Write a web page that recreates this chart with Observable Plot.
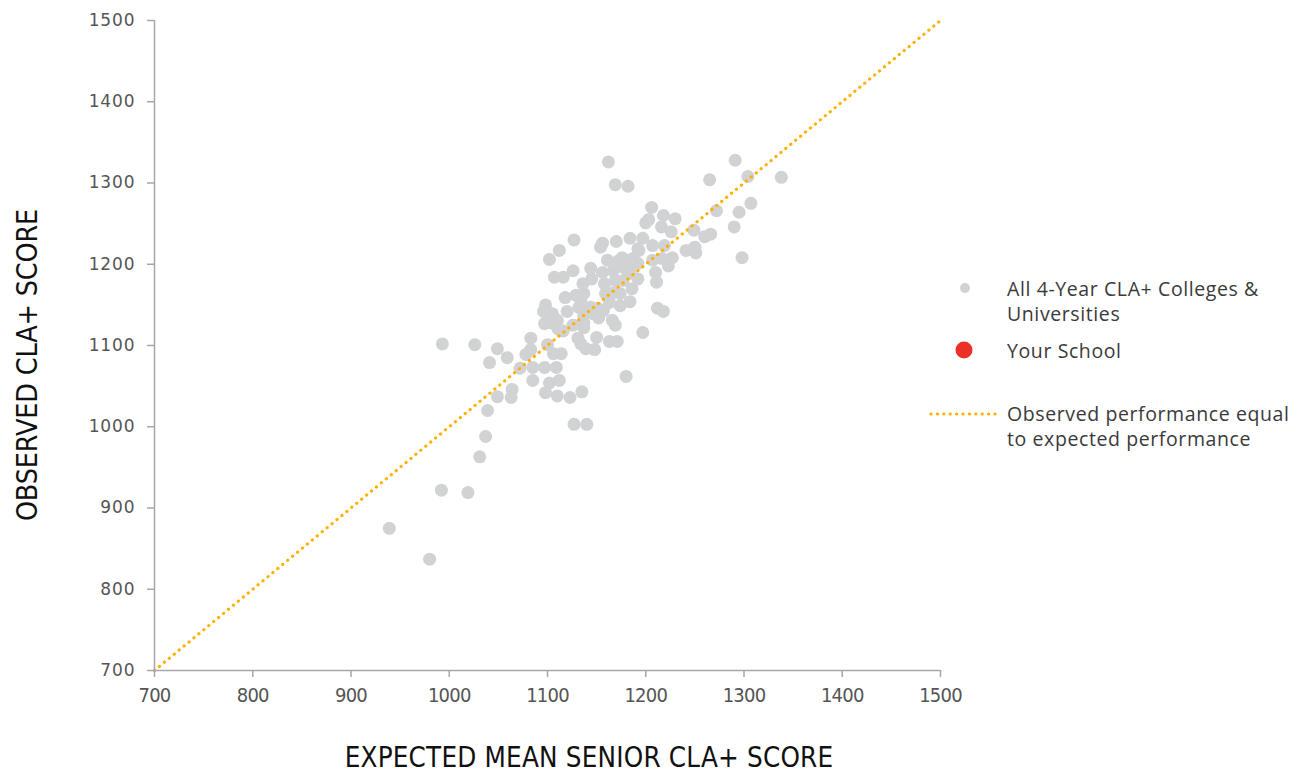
<!DOCTYPE html>
<html>
<head>
<meta charset="utf-8">
<script src="https://cdn.jsdelivr.net/npm/d3@7"></script>
<script src="https://cdn.jsdelivr.net/npm/@observablehq/plot@0.6"></script>
<style>
  html, body { margin: 0; padding: 0; background: #fff; }
  #wrap { position: relative; width: 1307px; height: 774px; }
  #overlay { position: absolute; left: 0; top: 0; pointer-events: none; }
  g[aria-label="y-axis tick label"] { font-family: "DejaVu Sans", sans-serif; font-size: 17px; letter-spacing: 0.9px; fill: #555; }
  g[aria-label="x-axis tick label"] { font-family: "DejaVu Sans Condensed", "DejaVu Sans", sans-serif; font-stretch: condensed; font-size: 20px; letter-spacing: -0.8px; fill: #555; }
  g[aria-label="y-axis tick"], g[aria-label="x-axis tick"] { stroke: #a6a6a6; stroke-width: 1.5; }
</style>
</head>
<body>
<div id="wrap"></div>
<script>
// Expected mean senior CLA+ score (x) and observed CLA+ score (y), one entry per institution
const expected = [
  1162,1169,1182,1291,1304,1338,1265,1307,1295,1290,1298,1272,1249,1260,1266,1241,1250,1251,
  1206,1218,1230,1203,1200,1216,1226,1219,1207,1217,1227,1223,1207,1210,1211,1184,1197,1212,
  1218,1166,1169,1150,1163,1171,1148,1180,1137,1137,1144,1145,1156,1158,1167,1169,1176,1187,
  1184,1156,1170,1184,1192,1197,1193,1154,1172,1192,1174,1179,1161,1184,1192,1186,1177,1159,
  1167,1174,1163,1144,1151,1157,1147,1174,1137,1136,1126,1116,1107,1129,1118,1098,1096,1105,
  1100,1110,1120,1132,1152,1116,1126,1137,1131,1134,1139,1083,1097,1106,1111,1100,1106,1114,
  1078,1083,1072,1085,1097,1109,1085,1102,1112,1098,1110,1123,1135,1127,1140,
  993,1026,1049,1059,1041,1064,1049,1063,1039,1037,1031,992,1019,939,980,
  1127,1112,1102,1134
];
const observed = [
  1326,1298,1296,1328,1308,1307,1304,1275,1264,1246,1208,1266,1242,1234,1237,1217,1221,1214,
  1270,1260,1256,1255,1251,1246,1240,1223,1223,1207,1208,1198,1205,1190,1178,1154,1116,1146,
  1142,1131,1125,1110,1105,1105,1095,1062,1137,1128,1195,1182,1190,1176,1192,1180,1208,1207,
  1200,1226,1228,1232,1219,1232,1217,1221,1204,1201,1198,1195,1205,1189,1182,1170,1180,1164,
  1165,1164,1153,1147,1146,1143,1139,1149,1164,1176,1192,1184,1184,1162,1159,1150,1142,1139,
  1128,1131,1142,1147,1134,1118,1125,1122,1109,1102,1096,1109,1127,1127,1120,1101,1090,1090,
  1089,1095,1072,1073,1073,1073,1057,1054,1057,1042,1038,1036,1043,1003,1003,
  1102,1101,1096,1085,1079,1046,1037,1036,1020,988,963,922,919,875,837,
  1230,1217,1206,1155
];
const tickValues = [700, 800, 900, 1000, 1100, 1200, 1300, 1400, 1500];
const axisDomain = [700, 1500];
const equalLine = [700, 1500]; // observed = expected
const legendItems = [
  ["All 4-Year CLA+ Colleges &", "Universities"],
  ["Your School"],
  ["Observed performance equal", "to expected performance"]
];

const schools = expected.map((x, i) => ({x, y: observed[i]}));
const lineData = equalLine.map(v => ({x: v, y: v}));

const chart = Plot.plot({
  width: 1307,
  height: 774,
  marginLeft: 154,
  marginTop: 20,
  marginRight: 367,
  marginBottom: 104,
  style: {background: "#fff", overflow: "visible"},
  x: {domain: axisDomain},
  y: {domain: axisDomain},
  marks: [
    Plot.dot(schools, {x: "x", y: "y", r: 6.5, fill: "#d1d2d4"}),
    Plot.line(lineData, {x: "x", y: "y", stroke: "#ffb000", strokeWidth: 3.2, strokeLinecap: "round", strokeDasharray: "0.1 6.3"}),
    Plot.ruleX([axisDomain[0]], {stroke: "#a6a6a6", strokeWidth: 1.5}),
    Plot.ruleY([axisDomain[0]], {stroke: "#a6a6a6", strokeWidth: 1.5}),
    Plot.axisY({ticks: tickValues, tickSize: 7, tickPadding: 12, label: null, tickFormat: d => String(d)}),
    Plot.axisX({ticks: tickValues, tickSize: 7, tickPadding: 10, label: null, tickFormat: d => String(d)})
  ]
});
const wrap = document.getElementById("wrap");
wrap.appendChild(chart);

// Overlay: axis titles and legend
const svg = d3.select(wrap).append("svg")
  .attr("id", "overlay").attr("width", 1307).attr("height", 774);

const titleFont = '"DejaVu Sans Condensed", "DejaVu Sans", sans-serif';
svg.append("text")
  .attr("x", 589).attr("y", 767)
  .attr("text-anchor", "middle")
  .style("font-family", titleFont).style("font-stretch", "condensed")
  .style("font-size", "27.5px").style("letter-spacing", "0.2px").attr("fill", "#111")
  .text("EXPECTED MEAN SENIOR CLA+ SCORE");
svg.append("text")
  .attr("transform", "translate(37,365) rotate(-90)")
  .attr("text-anchor", "middle")
  .style("font-family", titleFont).style("font-stretch", "condensed")
  .style("font-size", "28.5px").style("letter-spacing", "-0.2px").attr("fill", "#111")
  .text("OBSERVED CLA+ SCORE");

const lg = svg.append("g")
  .style("font-family", '"Open Sans", "DejaVu Sans", sans-serif')
  .style("font-size", "19.5px").style("letter-spacing", "0.6px").attr("fill", "#3a3a3a");
lg.append("circle").attr("cx", 965).attr("cy", 288).attr("r", 5).attr("fill", "#d1d2d4");
lg.append("circle").attr("cx", 964).attr("cy", 350).attr("r", 8.5).attr("fill", "#ec3027");
lg.append("line").attr("x1", 931).attr("x2", 997).attr("y1", 414).attr("y2", 414)
  .attr("stroke", "#ffb000").attr("stroke-width", 3.2).attr("stroke-linecap", "round")
  .attr("stroke-dasharray", "0.1 6.3");
const baselines = [[296, 321], [358], [421, 446]];
legendItems.forEach((lines, i) => {
  lines.forEach((t, j) => {
    lg.append("text").attr("x", 1007).attr("y", baselines[i][j]).text(t);
  });
});
</script>
</body>
</html>
